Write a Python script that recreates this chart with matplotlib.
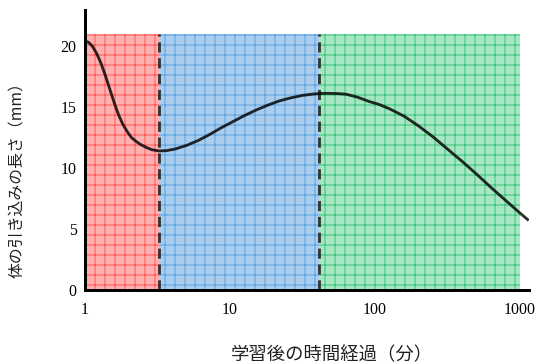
import matplotlib
matplotlib.use("Agg")
import matplotlib.pyplot as plt

# ---- data ----
time_min = [1.0, 1.059, 1.122, 1.202, 1.288, 1.380, 1.479, 1.585, 1.698, 1.820, 1.950, 2.089,
            2.239, 2.399, 2.630, 2.884, 3.236, 3.631, 4.169, 5.012, 6.026, 7.244, 8.710,
            10.47, 12.59, 15.14, 18.20, 21.88, 26.30, 31.62, 38.02, 45.71, 54.95, 63.10,
            75.86, 91.20, 107.2, 125.9, 158.5, 199.5, 251.2, 316.2, 398.1, 501.2, 631.0,
            794.3, 1000.0, 1148.0]
length_mm = [20.4, 20.3, 20.0, 19.4, 18.6, 17.6, 16.5, 15.4, 14.4, 13.6, 13.0, 12.5,
             12.2, 11.95, 11.7, 11.5, 11.4, 11.42, 11.55, 11.85, 12.25, 12.75, 13.3,
             13.8, 14.3, 14.75, 15.15, 15.5, 15.75, 15.95, 16.07, 16.12, 16.1, 16.05,
             15.8, 15.45, 15.2, 14.85, 14.25, 13.45, 12.55, 11.55, 10.55, 9.5, 8.4,
             7.35, 6.3, 5.7]

phase_bounds = [1.0, 3.25, 41.0, 1000.0]
phase_face = ["#ffb0b0", "#a8cdef", "#a6e6c3"]
phase_line = ["#ff5a5a", "#5fa2dc", "#3cc47a"]
phase_top = 21.0

xticks = [1, 10, 100, 1000]
xtick_labels = ["1", "10", "100", "1000"]
yticks = [0, 5, 10, 15, 20]
ytick_labels = ["0", "5", "10", "15", "20"]

xlabel = "学習後の時間経過（分）"
ylabel = "体の引き込みの長さ（mm）"

# ---- figure ----
DPI = 60
plt.rcParams["hatch.linewidth"] = 1.2
fig = plt.figure(figsize=(540 / DPI, 364 / DPI), dpi=DPI)
ax = fig.add_axes([85 / 540, 1 - 290 / 364, (529 - 85) / 540, (290 - 10) / 364])
ax.set_xscale("log")
ax.set_xlim(1.0, 1153)
ax.set_ylim(0, 22.95)

for i in range(3):
    ax.fill_between([phase_bounds[i], phase_bounds[i + 1]], 0, phase_top,
                    facecolor=phase_face[i], edgecolor=phase_line[i], hatch="+",
                    linewidth=0, zorder=1)

for b in phase_bounds[1:3]:
    ax.plot([b, b], [0, phase_top], color="#1a1a1a", alpha=0.85, lw=3.4,
            dashes=(3.6, 2.0), zorder=2)

ax.plot(time_min, length_mm, color="#000000", alpha=0.82, lw=3.4, zorder=3,
        solid_capstyle="butt", solid_joinstyle="round")

for s in ["top", "right"]:
    ax.spines[s].set_visible(False)
for s in ["left", "bottom"]:
    ax.spines[s].set_linewidth(3.6)
    ax.spines[s].set_color("black")
    ax.spines[s].set_zorder(4)

ax.set_xticks(xticks)
ax.set_xticklabels(xtick_labels, family="Liberation Serif", fontsize=19)
ax.set_yticks(yticks)
ax.set_yticklabels(ytick_labels, family="Liberation Serif", fontsize=19)
ax.minorticks_off()
ax.tick_params(axis="both", length=0)
ax.tick_params(axis="x", pad=15)
ax.tick_params(axis="y", pad=10)

fig.text(332 / 540, 1 - 355 / 364, xlabel, ha="center", va="center",
         family=["Noto Sans CJK JP", "DejaVu Sans"], fontsize=22, color="#222222")
fig.text(18 / 540, 1 - 176 / 364, ylabel, ha="center", va="center", rotation=90,
         family=["Noto Sans CJK JP", "DejaVu Sans"], fontsize=19, color="#222222")

fig.savefig("out.png", dpi=DPI)
